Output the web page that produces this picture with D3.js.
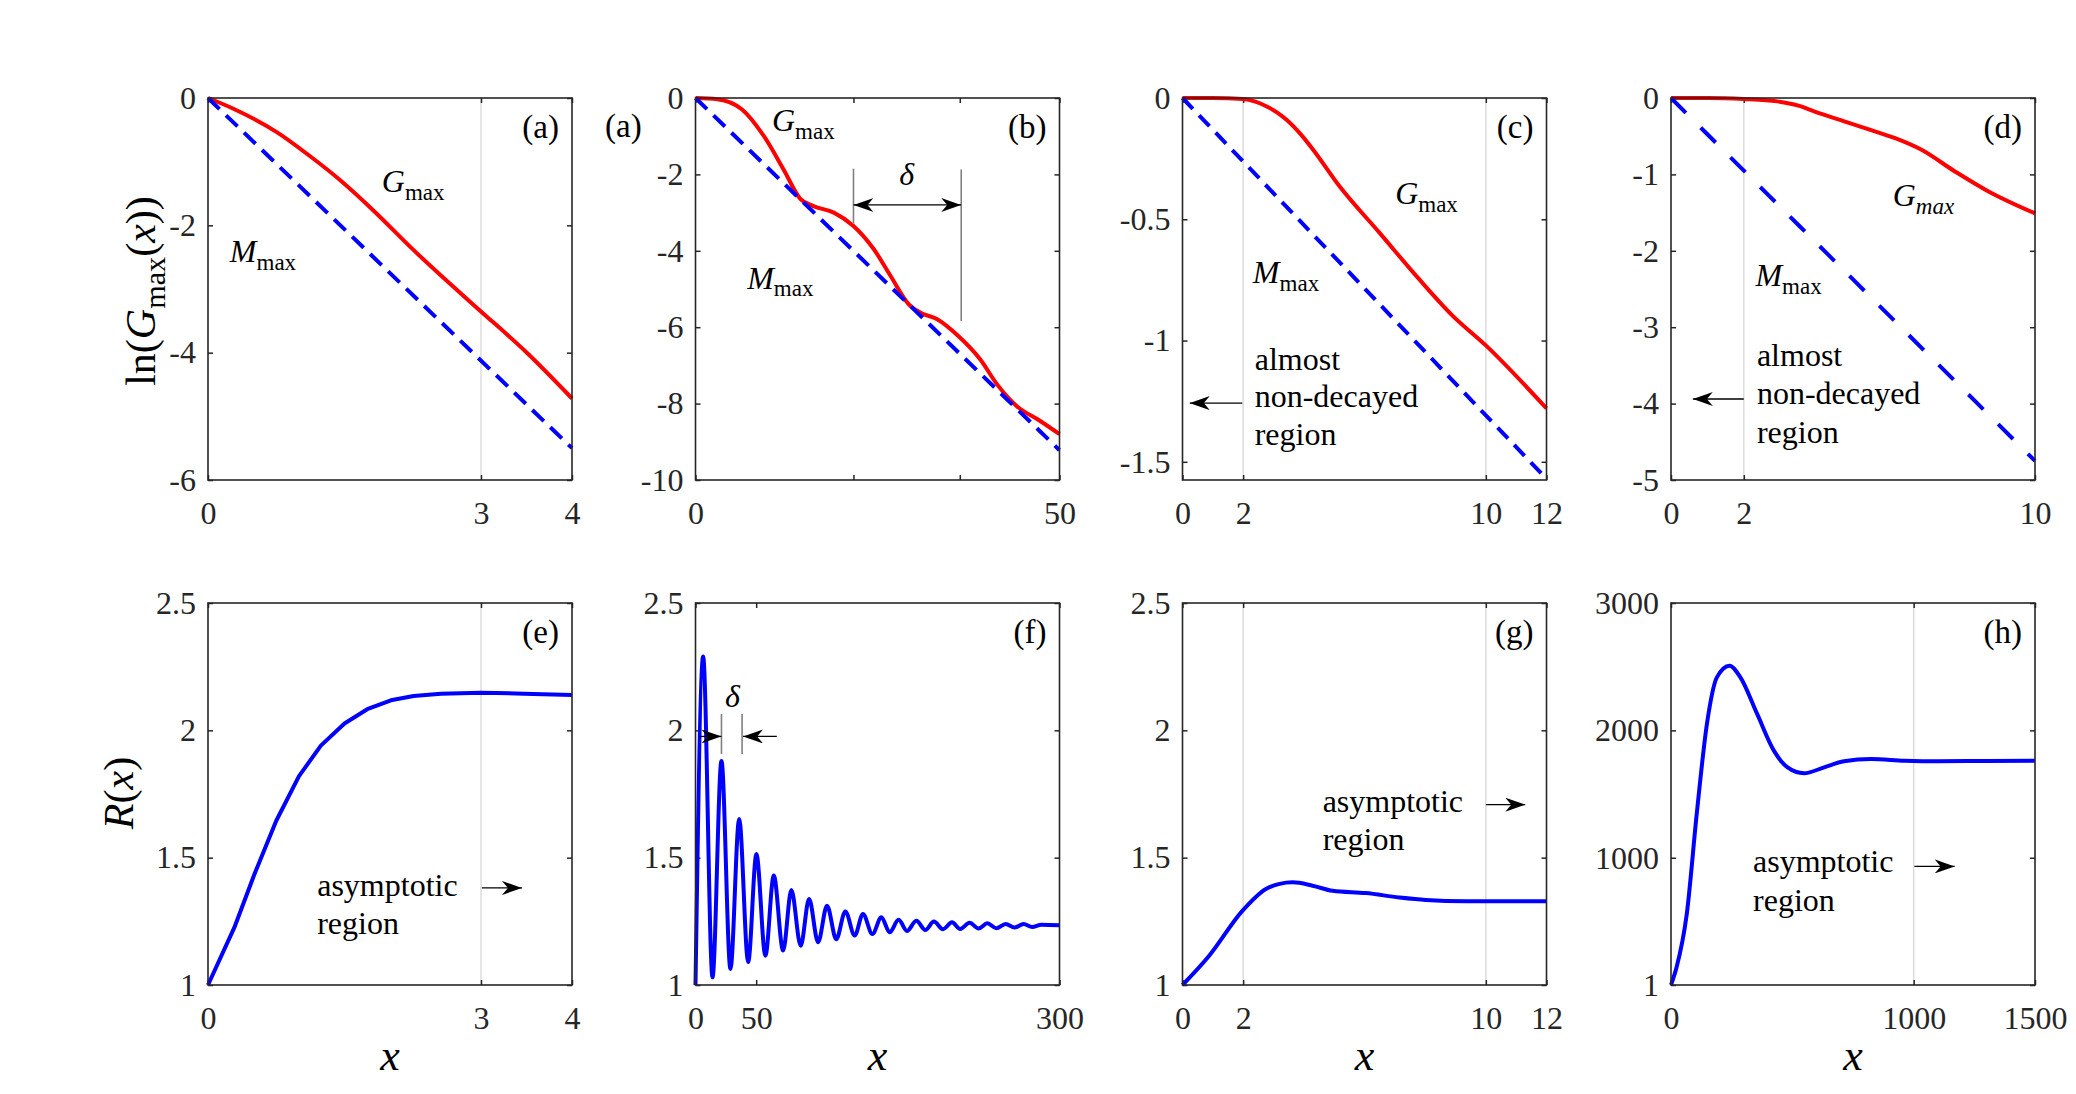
<!DOCTYPE html>
<html>
<head>
<meta charset="utf-8">
<script src="https://cdn.jsdelivr.net/npm/d3@7"></script>
<style>
  body { margin: 0; background: #fff; }
  svg text { font-family: "Liberation Serif", "DejaVu Serif", serif; }
</style>
</head>
<body>
<svg id="chart"></svg>
<script>
// ---- data ----
// top row: ln(G_max(x)) (red) and M_max (blue dashed)
const gmaxA = [[0,0],[0.285,-0.172],[0.76,-0.54],[1.09,-0.88],[1.46,-1.3],[1.82,-1.77],[2.26,-2.39],[2.7,-2.97],[2.99,-3.34],[3.51,-4.01],[4,-4.72]];
const mmaxA = [[0,0],[2,-2.75],[4,-5.5]];
const gmaxB = [[0,0],[3,-0.03],[6.4,-0.3],[9.4,-1.0],[12.1,-1.87],[14.4,-2.64],[16.2,-2.83],[19,-3.0],[21.7,-3.35],[24.5,-3.96],[26.8,-4.66],[29.3,-5.4],[30.9,-5.62],[33.2,-5.79],[36.1,-6.23],[39.1,-6.84],[41.4,-7.49],[44.1,-8.06],[47.3,-8.45],[50,-8.8]];
const mmaxB = [[0,0],[25,-4.61],[50,-9.22]];
const gmaxC = [[0,0],[1,0],[2,-0.004],[2.4,-0.015],[2.76,-0.034],[3.1,-0.058],[3.42,-0.089],[3.9,-0.15],[4.3,-0.212],[5.17,-0.363],[6.49,-0.555],[7.8,-0.747],[8.9,-0.897],[10,-1.02],[12,-1.28]];
const mmaxC = [[0,0],[6,-0.785],[12,-1.57]];
const gmaxD = [[0,0],[1,0],[2,-0.013],[2.92,-0.044],[3.5,-0.1],[3.93,-0.174],[4.76,-0.305],[5.5,-0.42],[6.14,-0.523],[6.87,-0.675],[7.79,-0.958],[8.71,-1.22],[10,-1.51]];
const mmaxD = [[0,0],[5,-2.375],[10,-4.75]];
// bottom row: R(x)
const rE = [[0,1],[0.29,1.226],[0.51,1.435],[0.75,1.645],[1.0,1.82],[1.24,1.94],[1.5,2.027],[1.75,2.083],[2.01,2.118],[2.26,2.135],[2.56,2.144],[3.0,2.148],[3.47,2.144],[4,2.139]];
const rF = [[0,1],[6.3,2.29],[14,1.03],[21.4,1.88],[28.8,1.063],[36,1.652],[43.4,1.09],[50.2,1.514],[57.6,1.115],[64.5,1.43],[72.2,1.135],[79,1.373],[86.7,1.154],[93.6,1.338],[101,1.168],[108.4,1.311],[116,1.18],[123.5,1.289],[131.2,1.194],[138,1.279],[145.8,1.2],[153.2,1.266],[160,1.207],[167.4,1.256],[174.3,1.212],[182,1.252],[189.4,1.216],[196.5,1.249],[204,1.219],[211.4,1.246],[218.2,1.22],[225.9,1.244],[233.3,1.222],[240.5,1.242],[247.9,1.223],[255.6,1.24],[263,1.226],[270.4,1.24],[277.5,1.228],[285,1.237],[300,1.235]];
const rG = [[0,1],[0.88,1.115],[1.98,1.292],[2.75,1.377],[3.2,1.397],[3.63,1.403],[4.29,1.39],[4.95,1.37],[6.04,1.361],[7.14,1.344],[8.02,1.334],[9.34,1.329],[12,1.329]];
const rH = [[0,1],[23,140],[65,558],[106,1343],[148,2050],[189,2416],[241,2508],[286,2416],[355,2129],[424,1841],[479,1711],[548,1663],[631,1710],[713,1757],[824,1775],[962,1762],[1100,1757],[1300,1760],[1500,1762]];

// tick values and labels
const xTicksA = [0,3,4],        xLabelsA = ['0','3','4'];
const xTicksB = [0,21.7,36.3,50], xLabelsB = ['0','','','50'];
const xTicksC = [0,2,10,12],    xLabelsC = ['0','2','10','12'];
const xTicksD = [0,2,10],       xLabelsD = ['0','2','10'];
const xTicksF = [0,50,300],     xLabelsF = ['0','50','300'];
const xTicksH = [0,1000,1500],  xLabelsH = ['0','1000','1500'];
const yTicksA = [0,-2,-4,-6],   yLabelsA = ['0','-2','-4','-6'];
const yTicksB = [0,-2,-4,-6,-8,-10], yLabelsB = ['0','-2','-4','-6','-8','-10'];
const yTicksC = [0,-0.5,-1,-1.5], yLabelsC = ['0','-0.5','-1','-1.5'];
const yTicksD = [0,-1,-2,-3,-4,-5], yLabelsD = ['0','-1','-2','-3','-4','-5'];
const yTicksR = [1,1.5,2,2.5],  yLabelsR = ['1','1.5','2','2.5'];
const yTicksH = [1,1000,2000,3000], yLabelsH = ['1','1000','2000','3000'];

// ---- layout ----
const W = 2076, H = 1094;
const colLeft = [208, 695.5, 1182.5, 1671];
const rowTop = [98, 603];
const pw = 364, ph = 382;
const RED = '#ff0000', BLUE = '#0000ff', AX = '#262626';
const FONT = '"Liberation Serif", "DejaVu Serif", serif';

const Gmax = [['G','i'],['max','sub']];
const GmaxIt = [['G','i'],['max','isub']];
const Mmax = [['M','i'],['max','sub']];

const panels = [
  { col:0, row:0, tag:'(a)', xDom:[0,4], yDom:[-6,0], xt:xTicksA, xl:xLabelsA, yt:yTicksA, yl:yLabelsA, grid:[3],
    lines:[{d:gmaxA, c:RED}, {d:mmaxA, c:BLUE, dash:'16,9'}],
    notes:[{x:1.91, y:-1.48, p:Gmax}, {x:0.24, y:-2.58, p:Mmax}] },
  { col:1, row:0, tag:'(b)', xDom:[0,50], yDom:[-10,0], xt:xTicksB, xl:xLabelsB, yt:yTicksB, yl:yLabelsB, grid:[],
    lines:[{d:gmaxB, c:RED}, {d:mmaxB, c:BLUE, dash:'16,9'}],
    vlines:[{x:21.7, y1:-1.85, y2:-3.3}, {x:36.5, y1:-1.87, y2:-5.84}],
    arrows:[{x1:21.7, y1:-2.8, x2:36.5, y2:-2.8, both:true}],
    notes:[{x:10.5, y:-0.87, p:Gmax}, {x:7.1, y:-4.99, p:Mmax}, {x:29, y:-2.29, p:[['δ','i']], anchor:'middle'}] },
  { col:2, row:0, tag:'(c)', xDom:[0,12], yDom:[-1.575,0], xt:xTicksC, xl:xLabelsC, yt:yTicksC, yl:yLabelsC, grid:[2,10],
    lines:[{d:gmaxC, c:RED}, {d:mmaxC, c:BLUE, dash:'15,9'}],
    arrows:[{x1:1.97, y1:-1.258, x2:0.24, y2:-1.258}],
    notes:[{x:7.01, y:-0.438, p:Gmax}, {x:2.32, y:-0.763, p:Mmax},
           {x:2.38, y:-1.123, p:[['almost','r']]}, {x:2.38, y:-1.274, p:[['non-decayed','r']]}, {x:2.38, y:-1.432, p:[['region','r']]}] },
  { col:3, row:0, tag:'(d)', xDom:[0,10], yDom:[-5,0], xt:xTicksD, xl:xLabelsD, yt:yTicksD, yl:yLabelsD, grid:[2],
    lines:[{d:gmaxD, c:RED}, {d:mmaxD, c:BLUE, dash:'21,21'}],
    arrows:[{x1:2.0, y1:-3.94, x2:0.6, y2:-3.94}],
    notes:[{x:6.09, y:-1.415, p:GmaxIt}, {x:2.32, y:-2.46, p:Mmax},
           {x:2.36, y:-3.51, p:[['almost','r']]}, {x:2.36, y:-4.0, p:[['non-decayed','r']]}, {x:2.36, y:-4.51, p:[['region','r']]}] },
  { col:0, row:1, tag:'(e)', xDom:[0,4], yDom:[1,2.5], xt:xTicksA, xl:xLabelsA, yt:yTicksR, yl:yLabelsR, grid:[3],
    lines:[{d:rE, c:BLUE, linear:true}],
    arrows:[{x1:3.01, y1:1.381, x2:3.45, y2:1.381}],
    notes:[{x:1.2, y:1.351, p:[['asymptotic','r']]}, {x:1.2, y:1.2, p:[['region','r']]}] },
  { col:1, row:1, tag:'(f)', xDom:[0,300], yDom:[1,2.5], xt:xTicksF, xl:xLabelsF, yt:yTicksR, yl:yLabelsR, grid:[],
    lines:[{d:rF, c:BLUE}],
    vlines:[{x:21.4, y1:1.907, y2:2.064}, {x:38.4, y1:1.907, y2:2.064}],
    arrows:[{x1:3.5, y1:1.976, x2:21.4, y2:1.976}, {x1:67, y1:1.976, x2:39.2, y2:1.976}],
    notes:[{x:30.5, y:2.09, p:[['δ','i']], anchor:'middle'}] },
  { col:2, row:1, tag:'(g)', xDom:[0,12], yDom:[1,2.5], xt:xTicksC, xl:xLabelsC, yt:yTicksR, yl:yLabelsR, grid:[2,10],
    lines:[{d:rG, c:BLUE}],
    arrows:[{x1:10, y1:1.708, x2:11.3, y2:1.708}],
    notes:[{x:4.62, y:1.678, p:[['asymptotic','r']]}, {x:4.62, y:1.53, p:[['region','r']]}] },
  { col:3, row:1, tag:'(h)', xDom:[0,1500], yDom:[1,3000], xt:xTicksH, xl:xLabelsH, yt:yTicksH, yl:yLabelsH, grid:[1000],
    lines:[{d:rH, c:BLUE}],
    arrows:[{x1:1003, y1:932, x2:1169, y2:932}],
    notes:[{x:338, y:886, p:[['asymptotic','r']]}, {x:338, y:585, p:[['region','r']]}] }
];

const svg = d3.select('#chart')
  .attr('width', W).attr('height', H)
  .attr('font-family', FONT);

const defs = svg.append('defs');
defs.append('marker')
  .attr('id', 'head')
  .attr('viewBox', '0 0 20 14')
  .attr('refX', 20).attr('refY', 7)
  .attr('markerWidth', 20).attr('markerHeight', 14)
  .attr('markerUnits', 'userSpaceOnUse')
  .attr('orient', 'auto-start-reverse')
  .append('path')
  .attr('d', 'M0,0 L20,7 L0,14 L6,7 Z')
  .attr('fill', '#000');

// text with italic parts and subscripts
function richText(g, x, y, parts, size, anchor) {
  const t = g.append('text')
    .attr('x', x).attr('y', y)
    .attr('font-family', FONT)
    .attr('font-size', size)
    .attr('text-anchor', anchor || 'start')
    .attr('fill', '#000');
  let shift = 0;
  parts.forEach(([s, st]) => {
    const sub = st === 'sub' || st === 'isub';
    const sp = t.append('tspan').text(s);
    const want = sub ? size * 0.24 : 0;
    if (want !== shift) { sp.attr('dy', want - shift); shift = want; }
    if (sub) sp.attr('font-size', size * 0.72);
    if (st === 'i' || st === 'isub') sp.attr('font-style', 'italic');
  });
  return t;
}

panels.forEach(p => {
  const x0 = colLeft[p.col], y0 = rowTop[p.row];
  const g = svg.append('g').attr('transform', `translate(${x0},${y0})`);
  const x = d3.scaleLinear().domain(p.xDom).range([0, pw]);
  const y = d3.scaleLinear().domain(p.yDom).range([ph, 0]);

  // light vertical grid lines
  g.selectAll('.grid').data(p.grid).join('line')
    .attr('class', 'grid')
    .attr('x1', d => x(d)).attr('x2', d => x(d))
    .attr('y1', 0).attr('y2', ph)
    .attr('stroke', '#dcdcdc').attr('stroke-width', 1.5);

  // axes with inward ticks on all four sides
  const fmt = (vals, labs) => d => labs[vals.indexOf(d)];
  const axB = g.append('g').attr('transform', `translate(0,${ph})`)
    .call(d3.axisBottom(x).tickValues(p.xt).tickFormat(fmt(p.xt, p.xl)).tickSize(-5).tickPadding(21));
  const axT = g.append('g')
    .call(d3.axisTop(x).tickValues(p.xt).tickFormat('').tickSize(-5));
  const axL = g.append('g')
    .call(d3.axisLeft(y).tickValues(p.yt).tickFormat(fmt(p.yt, p.yl)).tickSize(-5).tickPadding(12));
  const axR = g.append('g').attr('transform', `translate(${pw},0)`)
    .call(d3.axisRight(y).tickValues(p.yt).tickFormat('').tickSize(-5));
  [axB, axT, axL, axR].forEach(a => {
    a.select('.domain').remove();
    a.attr('font-family', FONT).attr('font-size', 32);
    a.selectAll('line').attr('stroke', AX).attr('stroke-width', 1.5);
    a.selectAll('text').attr('fill', AX).attr('font-family', FONT);
  });

  // data lines
  p.lines.forEach(l => {
    const line = d3.line()
      .x(d => x(d[0])).y(d => y(d[1]))
      .curve(l.linear ? d3.curveLinear : d3.curveMonotoneX);
    g.append('path')
      .datum(l.d)
      .attr('d', line)
      .attr('fill', 'none')
      .attr('stroke', l.c)
      .attr('stroke-width', 4)
      .attr('stroke-dasharray', l.dash || null)
      .attr('stroke-linejoin', 'round');
  });

  // box
  g.append('rect')
    .attr('width', pw).attr('height', ph)
    .attr('fill', 'none').attr('stroke', AX).attr('stroke-width', 1.6);

  // annotation marks
  (p.vlines || []).forEach(v => {
    g.append('line')
      .attr('x1', x(v.x)).attr('x2', x(v.x))
      .attr('y1', y(v.y1)).attr('y2', y(v.y2))
      .attr('stroke', '#808080').attr('stroke-width', 1.6);
  });
  (p.arrows || []).forEach(a => {
    g.append('line')
      .attr('x1', x(a.x1)).attr('y1', y(a.y1))
      .attr('x2', x(a.x2)).attr('y2', y(a.y2))
      .attr('stroke', '#000').attr('stroke-width', 1.3)
      .attr('marker-end', 'url(#head)')
      .attr('marker-start', a.both ? 'url(#head)' : null);
  });
  p.notes.forEach(n => richText(g, x(n.x), y(n.y), n.p, 32, n.anchor));

  // panel tag
  g.append('text')
    .attr('x', pw - 13).attr('y', 40)
    .attr('text-anchor', 'end')
    .attr('font-family', FONT)
    .attr('font-size', 33)
    .attr('fill', '#000')
    .text(p.tag);

  // x label under the bottom row
  if (p.row === 1) {
    richText(g, pw / 2, 1070 - y0, [['x','i']], 44, 'middle');
  }
});

// stray panel tag left of (b), as in the source figure
svg.append('text').attr('x', 605).attr('y', 137)
  .attr('font-family', FONT)
  .attr('font-size', 33).attr('fill', '#000').text('(a)');

// y labels
richText(svg, 155, 291, [['ln(','r'],['G','i'],['max','sub'],['(','r'],['x','i'],['))','r']], 42, 'middle')
  .attr('transform', 'rotate(-90,155,291)');
richText(svg, 133, 793, [['R','i'],['(','r'],['x','i'],[')','r']], 42, 'middle')
  .attr('transform', 'rotate(-90,133,793)');
</script>
</body>
</html>
